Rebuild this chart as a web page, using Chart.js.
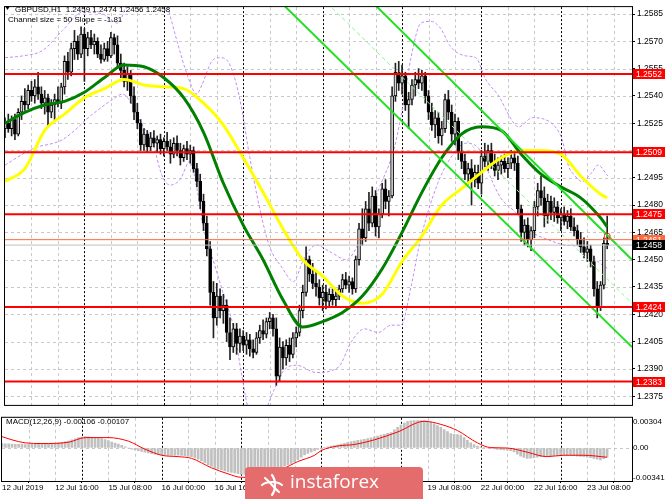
<!DOCTYPE html>
<html>
<head>
<meta charset="utf-8">
<script src="https://cdn.jsdelivr.net/npm/chart.js@4.4.1/dist/chart.umd.min.js"></script>
<style>
  html, body { margin: 0; padding: 0; background: #fff; }
  #wrap { position: relative; width: 665px; height: 499px; overflow: hidden; }
  #main { position: absolute; left: 0; top: 0; }
  #macd { position: absolute; left: 0; top: 412px; }
  #badge { position: absolute; left: 245px; top: 467px; width: 178px; height: 40px;
           background: #e46c6c; border-radius: 4px; }
  #badge svg { position: absolute; left: 14px; top: 5px; }
  #badge span { position: absolute; left: 45px; top: 5px; color: #fff;
                font: 19px "Open Sans", sans-serif; line-height: 1; }
</style>
</head>
<body>
<div id="wrap">
  <canvas id="main" width="665" height="412"></canvas>
  <canvas id="macd" width="665" height="87"></canvas>
  <div id="badge">
    <svg width="26" height="26" viewBox="0 0 26 26">
      <g fill="none" stroke="#fff" stroke-width="2.2" stroke-linecap="round">
        <path d="M13 3 C 17 8, 17 18, 13 23"/>
        <path d="M3 13 C 8 9, 18 9, 23 13"/>
        <path d="M6 6 C 11 10, 15 16, 20 20"/>
      </g>
    </svg>
    <span>instaforex</span>
  </div>
</div>
<script>
// GBPUSD H1, 12 Jul 00:00 .. 23 Jul 14:00 (bar index 0..182)
var open = [
  1.2522,1.2525,1.2522,1.2527,1.2519,1.2531,1.2537,1.2535,1.2543,1.2540,
  1.2545,1.2541,1.2536,1.2539,1.2531,1.2535,1.2538,1.2536,1.2545,1.2559,
  1.2553,1.2566,1.2570,1.2563,1.2574,1.2566,1.2572,1.2568,1.2570,1.2563,
  1.2560,1.2566,1.2562,1.2572,1.2568,1.2558,1.2554,1.2548,1.2552,1.2540,
  1.2531,1.2525,1.2513,1.2519,1.2512,1.2517,1.2514,1.2516,1.2511,1.2515,
  1.2512,1.2508,1.2514,1.2510,1.2506,1.2511,1.2508,1.2510,1.2500,1.2493,
  1.2482,1.2470,1.2456,1.2432,1.2418,1.2430,1.2422,1.2425,1.2410,1.2402,
  1.2412,1.2404,1.2408,1.2403,1.2406,1.2401,1.2399,1.2407,1.2411,1.2409,
  1.2416,1.2418,1.2412,1.2386,1.2402,1.2396,1.2403,1.2398,1.2407,1.2410,
  1.2422,1.2432,1.2450,1.2442,1.2437,1.2435,1.2429,1.2432,1.2427,1.2431,
  1.2428,1.2430,1.2434,1.2439,1.2436,1.2438,1.2434,1.2450,1.2467,1.2462,
  1.2478,1.2470,1.2485,1.2468,1.2475,1.2489,1.2482,1.2485,1.2540,1.2553,
  1.2547,1.2551,1.2535,1.2538,1.2546,1.2549,1.2547,1.2551,1.2540,1.2531,
  1.2524,1.2528,1.2518,1.2522,1.2538,1.2531,1.2519,1.2526,1.2509,1.2504,
  1.2497,1.2500,1.2494,1.2498,1.2492,1.2507,1.2504,1.2510,1.2503,1.2499,
  1.2502,1.2504,1.2500,1.2503,1.2506,1.2503,1.2478,1.2465,1.2469,1.2461,
  1.2466,1.2479,1.2488,1.2484,1.2474,1.2482,1.2476,1.2479,1.2473,1.2475,
  1.2471,1.2474,1.2468,1.2466,1.2461,1.2457,1.2454,1.2456,1.2449,1.2434,
  1.2424,1.2436,1.2459
];
var high = [
  1.2528,1.2530,1.2529,1.2530,1.2533,1.2540,1.2544,1.2546,1.2548,1.2549,
  1.2553,1.2545,1.2543,1.2541,1.2538,1.2541,1.2545,1.2547,1.2562,1.2564,
  1.2569,1.2576,1.2573,1.2578,1.2577,1.2575,1.2576,1.2574,1.2572,1.2568,
  1.2569,1.2570,1.2575,1.2574,1.2573,1.2563,1.2558,1.2556,1.2554,1.2545,
  1.2536,1.2527,1.2522,1.2521,1.2520,1.2521,1.2518,1.2519,1.2517,1.2520,
  1.2516,1.2517,1.2518,1.2514,1.2513,1.2515,1.2513,1.2512,1.2503,1.2497,
  1.2486,1.2474,1.2460,1.2438,1.2437,1.2434,1.2431,1.2428,1.2418,1.2415,
  1.2415,1.2412,1.2411,1.2410,1.2409,1.2406,1.2410,1.2414,1.2417,1.2418,
  1.2421,1.2420,1.2418,1.2407,1.2405,1.2406,1.2407,1.2410,1.2413,1.2425,
  1.2436,1.2457,1.2452,1.2448,1.2443,1.2439,1.2436,1.2436,1.2434,1.2434,
  1.2433,1.2436,1.2442,1.2443,1.2441,1.2440,1.2452,1.2470,1.2478,1.2482,
  1.2487,1.2490,1.2488,1.2478,1.2492,1.2494,1.2488,1.2545,1.2558,1.2559,
  1.2557,1.2553,1.2542,1.2549,1.2553,1.2555,1.2554,1.2553,1.2543,1.2536,
  1.2532,1.2531,1.2526,1.2541,1.2543,1.2535,1.2530,1.2528,1.2515,1.2508,
  1.2503,1.2505,1.2502,1.2502,1.2510,1.2514,1.2513,1.2514,1.2508,1.2506,
  1.2507,1.2508,1.2506,1.2510,1.2510,1.2507,1.2480,1.2472,1.2473,1.2468,
  1.2482,1.2492,1.2496,1.2490,1.2486,1.2485,1.2484,1.2482,1.2478,1.2479,
  1.2477,1.2478,1.2473,1.2469,1.2465,1.2462,1.2460,1.2458,1.2452,1.2438,
  1.2438,1.2462,1.2474
];
var low = [
  1.2517,1.2520,1.2518,1.2516,1.2518,1.2527,1.2532,1.2533,1.2537,1.2536,
  1.2538,1.2533,1.2530,1.2523,1.2528,1.2526,1.2534,1.2533,1.2541,1.2549,
  1.2551,1.2560,1.2560,1.2561,1.2548,1.2562,1.2566,1.2563,1.2561,1.2558,
  1.2559,1.2559,1.2561,1.2563,1.2555,1.2550,1.2545,1.2543,1.2536,1.2527,
  1.2522,1.2510,1.2510,1.2509,1.2510,1.2512,1.2509,1.2508,1.2507,1.2510,
  1.2503,1.2506,1.2507,1.2502,1.2504,1.2505,1.2503,1.2498,1.2490,1.2478,
  1.2466,1.2452,1.2425,1.2407,1.2414,1.2418,1.2415,1.2405,1.2395,1.2399,
  1.2398,1.2399,1.2400,1.2398,1.2397,1.2396,1.2398,1.2404,1.2406,1.2407,
  1.2412,1.2408,1.2381,1.2383,1.2390,1.2392,1.2394,1.2396,1.2402,1.2408,
  1.2418,1.2430,1.2438,1.2434,1.2430,1.2425,1.2422,1.2423,1.2424,1.2425,
  1.2424,1.2428,1.2432,1.2434,1.2432,1.2431,1.2432,1.2447,1.2458,1.2460,
  1.2466,1.2468,1.2463,1.2462,1.2473,1.2478,1.2474,1.2484,1.2537,1.2543,
  1.2541,1.2532,1.2522,1.2535,1.2540,1.2544,1.2543,1.2536,1.2527,1.2521,
  1.2517,1.2514,1.2513,1.2520,1.2527,1.2515,1.2513,1.2505,1.2500,1.2494,
  1.2491,1.2480,1.2490,1.2489,1.2486,1.2501,1.2499,1.2500,1.2496,1.2494,
  1.2497,1.2498,1.2495,1.2500,1.2499,1.2475,1.2460,1.2458,1.2457,1.2455,
  1.2462,1.2474,1.2480,1.2468,1.2470,1.2472,1.2471,1.2470,1.2466,1.2469,
  1.2467,1.2466,1.2463,1.2458,1.2454,1.2451,1.2449,1.2446,1.2430,1.2418,
  1.2422,1.2434,1.2456
];
var close = [
  1.2525,1.2522,1.2527,1.2519,1.2531,1.2537,1.2535,1.2543,1.2540,1.2545,
  1.2541,1.2536,1.2539,1.2531,1.2535,1.2538,1.2536,1.2545,1.2559,1.2553,
  1.2566,1.2570,1.2563,1.2574,1.2566,1.2572,1.2568,1.2570,1.2563,1.2560,
  1.2566,1.2562,1.2572,1.2568,1.2558,1.2554,1.2548,1.2552,1.2540,1.2531,
  1.2525,1.2513,1.2519,1.2512,1.2517,1.2514,1.2516,1.2511,1.2515,1.2512,
  1.2508,1.2514,1.2510,1.2506,1.2511,1.2508,1.2510,1.2500,1.2493,1.2482,
  1.2470,1.2456,1.2432,1.2418,1.2430,1.2422,1.2425,1.2410,1.2402,1.2412,
  1.2404,1.2408,1.2403,1.2406,1.2401,1.2399,1.2407,1.2411,1.2409,1.2416,
  1.2418,1.2412,1.2386,1.2402,1.2396,1.2403,1.2398,1.2407,1.2410,1.2422,
  1.2432,1.2450,1.2442,1.2437,1.2435,1.2429,1.2432,1.2427,1.2431,1.2428,
  1.2430,1.2434,1.2439,1.2436,1.2438,1.2434,1.2450,1.2467,1.2462,1.2478,
  1.2470,1.2485,1.2468,1.2475,1.2489,1.2482,1.2485,1.2540,1.2553,1.2547,
  1.2551,1.2535,1.2538,1.2546,1.2549,1.2547,1.2551,1.2540,1.2531,1.2524,
  1.2528,1.2518,1.2522,1.2538,1.2531,1.2519,1.2526,1.2509,1.2504,1.2497,
  1.2500,1.2494,1.2498,1.2492,1.2507,1.2504,1.2510,1.2503,1.2499,1.2502,
  1.2504,1.2500,1.2503,1.2506,1.2503,1.2478,1.2465,1.2469,1.2461,1.2466,
  1.2479,1.2488,1.2484,1.2474,1.2482,1.2476,1.2479,1.2473,1.2475,1.2471,
  1.2474,1.2468,1.2466,1.2461,1.2457,1.2454,1.2456,1.2449,1.2434,1.2424,
  1.2436,1.2459,1.2458
];

// moving averages, read every 6 bars
var maBars = [0,6,12,18,24,30,36,42,48,54,60,66,72,78,84,90,96,102,108,114,120,126,132,138,144,150,156,162,168,174,180,182];
var greenMA = [1.2525,1.2531,1.2535,1.2537,1.2542,1.2550,1.2557,1.2556,1.2550,1.2539,1.2520,1.2492,1.2469,1.2450,1.2428,1.2413,
               1.2416,1.2421,1.2430,1.2445,1.2465,1.2487,1.2506,1.2519,1.2523,1.2521,1.2508,1.2497,1.2490,1.2484,1.2473,1.2468];
var yellowMA = [1.2493,1.2500,1.2521,1.2530,1.2539,1.2544,1.2549,1.2546,1.2545,1.2544,1.2536,1.2524,1.2506,1.2487,1.2467,1.2450,
                1.2441,1.2430,1.2426,1.2431,1.2449,1.2463,1.2480,1.2489,1.2498,1.2506,1.2510,1.2510,1.2508,1.2496,1.2486,1.2484];

// dashed bands
var upperBandBars = [0,5.4,11.4,17.4,23.5,29.5,34,37,40,44.5,49,52,55,58,59.5,62.5,65,68,71,74,77,80,83.6,87.2,90.2,94,98.6,103,107.7,112.8,117.6,120.6,122.7,125.7,128.7,131.7,134.7,139.2,142.3,145.3,149.2,153.4,155.2,159.4,163.3,166.3,168.4,170.2,172.3,174.4,177.4,179.2,182.2];
var upperBand = [1.2561,1.2562,1.2565,1.2576,1.2586,1.2585,1.2580,1.2591,1.2603,1.2603,1.2589,1.2570,1.2552,1.2541,1.2546,1.2559,1.2561,1.2557,1.2538,1.2506,1.2478,1.2457,1.2446,1.2438,1.2450,1.2458,1.2454,1.2450,1.2462,1.2488,1.2511,1.2538,1.2561,1.2580,1.2581,1.2577,1.2567,1.2562,1.2561,1.2549,1.2540,1.2526,1.2523,1.2528,1.2527,1.2523,1.2516,1.2502,1.2496,1.2493,1.2498,1.2502,1.2496];
var lowerBandBars = [0,8.4,17.4,26.5,32.5,35.5,38.5,41.5,44.5,47.5,49.9,52.9,55.9,58,60.2,63.2,66.2,69.2,71.6,74,78.2,81.2,84.2,88.1,94.1,100.8,104.7,108.6,112.8,116.7,119.7,122.7,125.7,130.8,134.7,139.2,143.2,146.8,149.8,154.3,159.4,164.2,169.3,174.4,179.2,182.2];
var lowerBand = [1.2502,1.2511,1.2516,1.2530,1.2538,1.2541,1.2535,1.2524,1.2515,1.2496,1.2491,1.2494,1.2504,1.2489,1.2466,1.2448,1.2430,1.2412,1.2386,1.2367,1.2367,1.2378,1.2389,1.2392,1.2388,1.2391,1.2405,1.2412,1.2410,1.2414,1.2414,1.2435,1.2462,1.2492,1.2506,1.2514,1.2511,1.2495,1.2484,1.2476,1.2465,1.2461,1.2458,1.2457,1.2449,1.2445];

// regression channel (bar, price at both ends)
var channelUpper = [[111.3,1.2591],[189.5,1.2450]];
var channelMiddle = [[97.4,1.2591],[189.5,1.2426]];
var channelLower = [[83.6,1.2591],[189.5,1.2402]];

var levels = [1.2552, 1.2509, 1.2475, 1.2424, 1.2383];
var askPrice = 1.2461;
var bidPrice = 1.2458;
var priceTicks = [1.2375,1.2390,1.2405,1.2420,1.2435,1.2450,1.2465,1.2480,1.2495,1.2510,1.2525,1.2540,1.2555,1.2570,1.2585];

var macdHist = [
  0.00052,0.00050,0.00048,0.00046,0.00044,0.00043,0.00042,0.00041,0.00041,0.00042,
  0.00043,0.00044,0.00046,0.00048,0.00050,0.00052,0.00055,0.00059,0.00066,0.00074,
  0.00082,0.00095,0.00108,0.00120,0.00128,0.00132,0.00130,0.00125,0.00120,0.00115,
  0.00110,0.00098,0.00085,0.00070,0.00058,0.00045,0.00030,0.00015,0.00000,-0.00012,
  -0.00022,-0.00030,-0.00040,-0.00049,-0.00058,-0.00065,-0.00071,-0.00076,-0.00080,-0.00082,
  -0.00083,-0.00084,-0.00084,-0.00084,-0.00086,-0.00090,-0.00095,-0.00100,-0.00115,-0.00130,
  -0.00150,-0.00170,-0.00195,-0.00215,-0.00232,-0.00245,-0.00255,-0.00265,-0.00275,-0.00283,
  -0.00290,-0.00297,-0.00303,-0.00308,-0.00313,-0.00317,-0.00319,-0.00315,-0.00305,-0.00292,
  -0.00280,-0.00265,-0.00258,-0.00245,-0.00230,-0.00212,-0.00195,-0.00180,-0.00160,-0.00135,
  -0.00105,-0.00081,-0.00062,-0.00045,-0.00030,-0.00015,0.00000,0.00008,0.00015,0.00022,
  0.00028,0.00034,0.00045,0.00055,0.00065,0.00075,0.00082,0.00090,0.00095,0.00102,
  0.00110,0.00118,0.00128,0.00138,0.00149,0.00160,0.00170,0.00178,0.00210,0.00240,
  0.00265,0.00290,0.00310,0.00315,0.00318,0.00319,0.00319,0.00319,0.00312,0.00300,
  0.00280,0.00260,0.00240,0.00215,0.00190,0.00167,0.00160,0.00155,0.00150,0.00120,
  0.00090,0.00060,0.00040,0.00024,0.00012,0.00005,0.00000,-0.00005,-0.00010,-0.00015,
  -0.00018,-0.00022,-0.00026,-0.00030,-0.00045,-0.00070,-0.00095,-0.00110,-0.00120,-0.00118,
  -0.00112,-0.00105,-0.00100,-0.00100,-0.00095,-0.00092,-0.00090,-0.00088,-0.00085,-0.00084,
  -0.00084,-0.00086,-0.00090,-0.00094,-0.00098,-0.00100,-0.00105,-0.00112,-0.00120,-0.00130,
  -0.00138,-0.00125,-0.00106
];
var signalBars = [0,3,7,12,20,25,32,38,43,48,53,57,63,68,72,77,84,89,94,96,101,106,112,119,127,132,137,143,147,152,158,164,169,175,182];
var macdSignal = [0.00132,0.00095,0.00060,0.00052,0.00067,0.00121,0.00121,0.00080,-0.00013,-0.00084,-0.00100,-0.00120,-0.00230,-0.00300,-0.00340,-0.00330,-0.00250,-0.00157,-0.00084,-0.00030,
                  0.00024,0.00041,0.00095,0.00186,0.00310,0.00275,0.00203,0.00060,0.00005,0.00000,-0.00049,-0.00100,-0.00084,-0.00084,-0.00107];

var tickBars = [0,16,32,48,64,80,96,112,128,144,160,176];
var timeLabels = ['12 Jul 2019','12 Jul 16:00','15 Jul 08:00','16 Jul 00:00','16 Jul 16:00','17 Jul 08:00',
                  '18 Jul 00:00','18 Jul 16:00','19 Jul 08:00','22 Jul 00:00','22 Jul 16:00','23 Jul 08:00'];

var X_MAX = 189.5;
var FONT = '"Liberation Sans", Arial, sans-serif';

function pts(xs, ys) { return xs.map(function(x, i) { return {x: x, y: ys[i]}; }); }
function seg(p) { return p.map(function(q) { return {x: q[0], y: q[1]}; }); }

// dashed grid + day separators + frame, shared by both panels
var gridPlugin = {
  id: 'mtGrid',
  beforeDatasetsDraw: function(chart, args, opts) {
    var ctx = chart.ctx, a = chart.chartArea, xs = chart.scales.x, ys = chart.scales.y;
    ctx.save();
    ctx.lineWidth = 1;
    ctx.strokeStyle = '#c8c8c8';
    ctx.setLineDash([3, 3]);
    opts.hLines.forEach(function(v) {
      var y = Math.round(ys.getPixelForValue(v)) + 0.5;
      ctx.beginPath(); ctx.moveTo(a.left, y); ctx.lineTo(a.right, y); ctx.stroke();
    });
    for (var b = 8; b < X_MAX; b += 8) {
      if (b % 24 === 0) continue;
      var x = Math.round(xs.getPixelForValue(b)) + 0.5;
      ctx.beginPath(); ctx.moveTo(x, a.top); ctx.lineTo(x, a.bottom); ctx.stroke();
    }
    ctx.strokeStyle = '#000';
    ctx.setLineDash([2, 2]);
    for (var d = 24; d < X_MAX; d += 24) {
      var xd = Math.round(xs.getPixelForValue(d)) + 0.5;
      ctx.beginPath(); ctx.moveTo(xd, a.top); ctx.lineTo(xd, a.bottom); ctx.stroke();
    }
    ctx.restore();
  },
  afterDraw: function(chart, args, opts) {
    var ctx = chart.ctx, a = chart.chartArea, ys = chart.scales.y;
    ctx.save();
    ctx.strokeStyle = '#000';
    ctx.lineWidth = 1;
    ctx.strokeRect(a.left - 0.5, a.top - 0.5, a.width + 1, a.height + 1);
    // price boxes on the right axis
    (opts.boxes || []).forEach(function(bx) {
      var y = Math.round(ys.getPixelForValue(bx.value));
      ctx.fillStyle = bx.bg;
      ctx.fillRect(a.right + 1, y - 5, 33, 10);
      ctx.fillStyle = bx.fg;
      ctx.font = '8.5px ' + FONT;
      ctx.textBaseline = 'middle';
      ctx.fillText(bx.value.toFixed(4), a.right + 4, y + 0.5);
    });
    ctx.fillStyle = '#000';
    ctx.textBaseline = 'alphabetic';
    ctx.font = '8px ' + FONT;
    (opts.texts || []).forEach(function(t) { ctx.fillText(t[0], t[1], t[2]); });
    if (opts.triangle) {
      ctx.beginPath(); ctx.moveTo(5, 6); ctx.lineTo(10, 6); ctx.lineTo(7.5, 10); ctx.closePath(); ctx.fill();
    }
    ctx.restore();
  }
};

var candleIdx = close.map(function(c, i) { return i; });

var lineBase = { type: 'line', pointRadius: 0, fill: false, parsing: true, spanGaps: true };

var mainCfg = {
  type: 'bar',
  data: {
    datasets: [
      Object.assign({}, lineBase, { order: 1, data: [{x: 0, y: bidPrice}, {x: X_MAX, y: bidPrice}], borderColor: '#c0c0c0', borderWidth: 1 }),
      Object.assign({}, lineBase, { order: 1, data: [{x: 0, y: askPrice}, {x: X_MAX, y: askPrice}], borderColor: '#ff6a3d', borderWidth: 1 })
    ].concat(levels.map(function(l) {
      return Object.assign({}, lineBase, { order: 1, data: [{x: 0, y: l}, {x: X_MAX, y: l}], borderColor: '#ff0000', borderWidth: 2 });
    })).concat([
      Object.assign({}, lineBase, { order: 0, data: [{x: 182, y: 1.2463}], pointRadius: 3, pointStyle: 'circle',
        pointBorderColor: '#ff3030', pointBackgroundColor: 'rgba(0,0,0,0)', pointBorderWidth: 1, showLine: false }),
      Object.assign({}, lineBase, { order: 2, data: seg(channelUpper), borderColor: '#22e022', borderWidth: 2 }),
      Object.assign({}, lineBase, { order: 2, data: seg(channelLower), borderColor: '#22e022', borderWidth: 2 }),
      Object.assign({}, lineBase, { order: 2, data: seg(channelMiddle), borderColor: '#90f090', borderWidth: 1, borderDash: [4, 3] }),
      Object.assign({}, lineBase, { order: 3, data: pts(maBars, greenMA), borderColor: '#008000', borderWidth: 3, cubicInterpolationMode: 'monotone' }),
      Object.assign({}, lineBase, { order: 3, data: pts(maBars, yellowMA), borderColor: '#ffff00', borderWidth: 3, cubicInterpolationMode: 'monotone' }),
      {
        type: 'bar', order: 4, grouped: false, barThickness: 3, minBarLength: 1,
        data: candleIdx.map(function(i) { return {x: i, y: [open[i], close[i]]}; }),
        backgroundColor: candleIdx.map(function(i) { return close[i] >= open[i] ? '#d4d4d4' : '#000'; }),
        borderColor: '#000', borderWidth: 1, borderSkipped: false
      },
      {
        type: 'bar', order: 5, grouped: false, barThickness: 1,
        data: candleIdx.map(function(i) { return {x: i, y: [low[i], high[i]]}; }),
        backgroundColor: '#222'
      },
      Object.assign({}, lineBase, { order: 6, data: pts(upperBandBars, upperBand), borderColor: '#c58cf2', borderWidth: 1, borderDash: [3, 2], cubicInterpolationMode: 'monotone' }),
      Object.assign({}, lineBase, { order: 6, data: pts(lowerBandBars, lowerBand), borderColor: '#c58cf2', borderWidth: 1, borderDash: [3, 2], cubicInterpolationMode: 'monotone' })
    ])
  },
  options: {
    responsive: false, animation: false, events: [],
    layout: { padding: { left: 2, top: 6, right: 0, bottom: 2 } },
    plugins: {
      legend: { display: false }, tooltip: { enabled: false },
      mtGrid: {
        hLines: priceTicks,
        boxes: levels.map(function(l) { return {value: l, bg: '#ff0000', fg: '#fff'}; })
          .concat([{value: askPrice, bg: '#ff6a3d', fg: '#fff'}, {value: bidPrice, bg: '#000', fg: '#fff'}]),
        texts: [['GBPUSD,H1  1.2459 1.2474 1.2456 1.2458', 15, 12], ['Channel size = 50 Slope = -1.81', 8, 22]],
        triangle: true
      }
    },
    scales: {
      x: { type: 'linear', min: 0, max: X_MAX, offset: false, display: false },
      y: {
        position: 'right', min: 1.23702, max: 1.25888,
        afterFit: function(s) { s.width = 33; },
        afterBuildTicks: function(s) { s.ticks = priceTicks.map(function(v) { return {value: v}; }); },
        ticks: { color: '#000', font: { size: 8.5, family: FONT }, padding: 2,
                 callback: function(v) { return Number(v).toFixed(4); } },
        grid: { display: true, drawOnChartArea: false, drawTicks: true, tickLength: 3, color: '#000' },
        border: { display: true, color: '#000' }
      }
    }
  },
  plugins: [gridPlugin]
};

var macdCfg = {
  type: 'bar',
  data: {
    datasets: [
      Object.assign({}, lineBase, { order: 1, data: pts(signalBars, macdSignal), borderColor: '#ff0000', borderWidth: 1, cubicInterpolationMode: 'monotone' }),
      {
        type: 'bar', order: 2, grouped: false, barThickness: 2,
        data: macdHist.map(function(v, i) { return {x: i, y: v}; }),
        backgroundColor: '#c0c0c0'
      }
    ]
  },
  options: {
    responsive: false, animation: false, events: [],
    layout: { padding: { left: 2, top: 1, right: 0, bottom: 0 } },
    plugins: {
      legend: { display: false }, tooltip: { enabled: false },
      mtGrid: { hLines: [0], texts: [['MACD(12,26,9) -0.00106 -0.00107', 6, 12]] }
    },
    scales: {
      x: {
        type: 'linear', min: 0, max: X_MAX, offset: false,
        afterFit: function(s) { s.height = 18; },
        afterBuildTicks: function(s) { s.ticks = tickBars.map(function(v) { return {value: v}; }); },
        ticks: { color: '#000', font: { size: 8, family: FONT }, align: 'start', padding: 0,
                 maxRotation: 0, autoSkip: false,
                 callback: function(v) { return timeLabels[tickBars.indexOf(v)]; } },
        grid: { display: true, drawOnChartArea: false, drawTicks: true, tickLength: 2, color: '#000' },
        border: { display: true, color: '#000' }
      },
      y: {
        position: 'right', min: -0.00383, max: 0.00351,
        afterFit: function(s) { s.width = 33; },
        afterBuildTicks: function(s) { s.ticks = [{value: 0.00304}, {value: 0}, {value: -0.00341}]; },
        ticks: { color: '#000', font: { size: 8, family: FONT }, padding: 1,
                 callback: function(v) { return v === 0 ? '0.00' : Number(v).toFixed(5); } },
        grid: { display: true, drawOnChartArea: false, drawTicks: true, tickLength: 0, color: '#000' },
        border: { display: true, color: '#000' }
      }
    }
  },
  plugins: [gridPlugin]
};

new Chart(document.getElementById('main'), mainCfg);
new Chart(document.getElementById('macd'), macdCfg);
</script>
</body>
</html>
